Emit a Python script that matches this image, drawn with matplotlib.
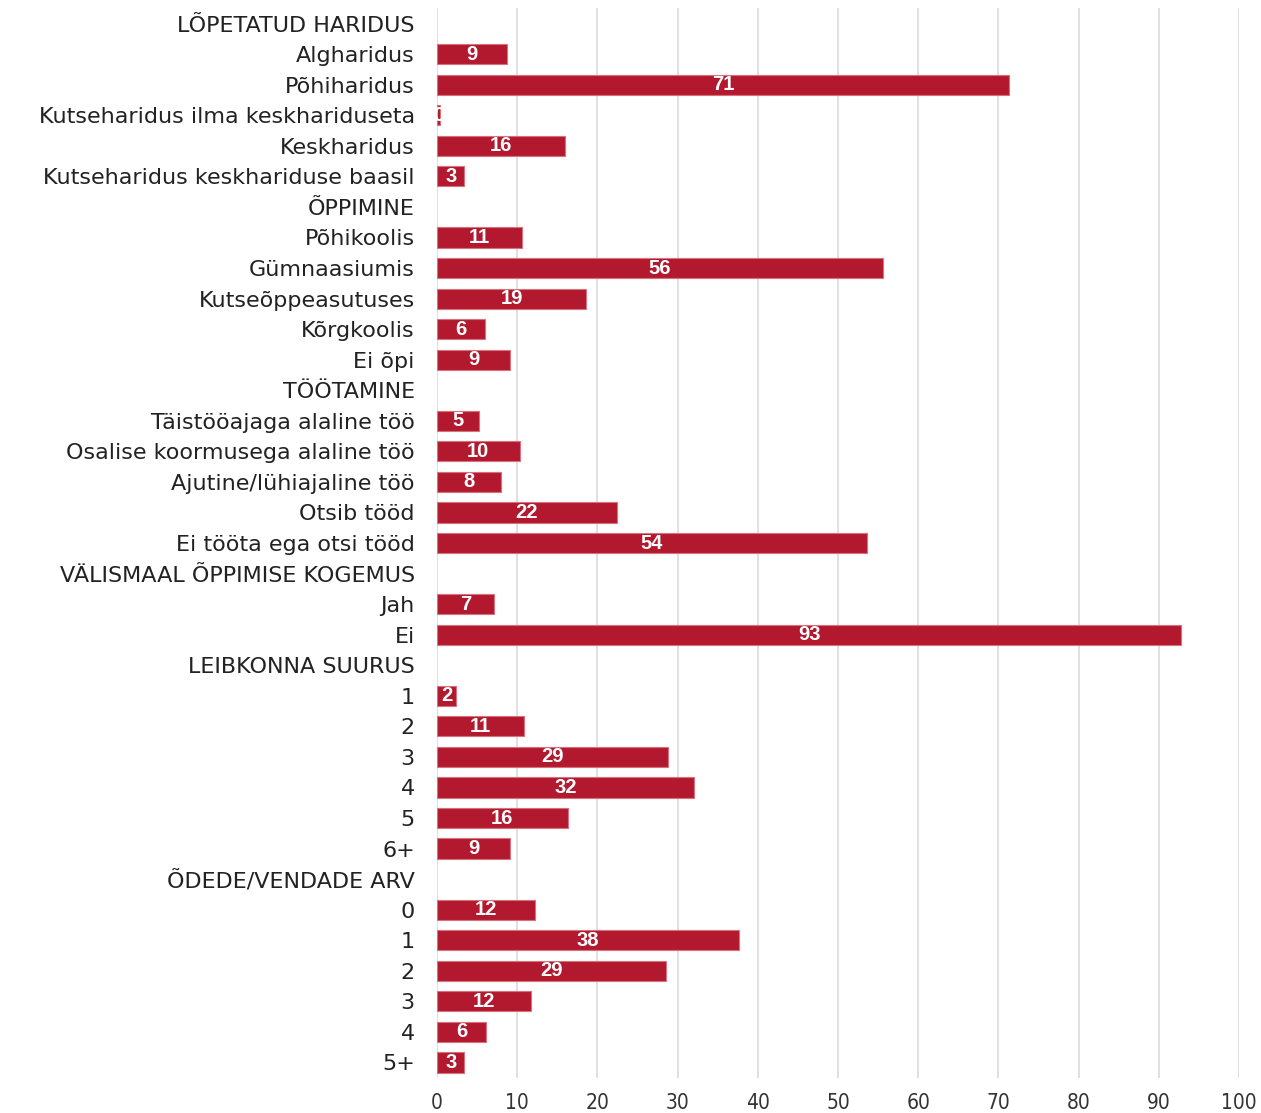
import matplotlib
matplotlib.use("Agg")
import matplotlib.pyplot as plt
import numpy as np

# category rows, top to bottom (section headers have no value)
labels = [
    "LÕPETATUD HARIDUS", "Algharidus", "Põhiharidus", "Kutseharidus ilma keskhariduseta",
    "Keskharidus", "Kutseharidus keskhariduse baasil",
    "ÕPPIMINE", "Põhikoolis", "Gümnaasiumis", "Kutseõppeasutuses", "Kõrgkoolis", "Ei õpi",
    "TÖÖTAMINE", "Täistööajaga alaline töö", "Osalise koormusega alaline töö",
    "Ajutine/lühiajaline töö", "Otsib tööd", "Ei tööta ega otsi tööd",
    "VÄLISMAAL ÕPPIMISE KOGEMUS", "Jah", "Ei",
    "LEIBKONNA SUURUS", "1", "2", "3", "4", "5", "6+",
    "ÕDEDE/VENDADE ARV", "0", "1", "2", "3", "4", "5+",
]
values = [
    None, 8.7, 71.3, 0.4, 16.0, 3.4,
    None, 10.6, 55.6, 18.6, 6.0, 9.1,
    None, 5.2, 10.3, 8.0, 22.4, 53.6,
    None, 7.1, 92.8,
    None, 2.4, 10.8, 28.8, 32.0, 16.3, 9.1,
    None, 12.2, 37.6, 28.6, 11.7, 6.1, 3.4,
]
xticks = [0, 10, 20, 30, 40, 50, 60, 70, 80, 90, 100]

BAR = "#b2192e"
EDGE = "#d8707e"

fig = plt.figure(figsize=(12.61, 11.13), dpi=100)
ax = fig.add_axes([0.3466, 0.0317, 0.636, 0.9608])

y = np.arange(len(labels))
for yi, v in zip(y, values):
    if v is None:
        continue
    ax.barh(yi, v, height=0.66, color=BAR, edgecolor=EDGE, linewidth=0.8, zorder=3)
    ax.text(v / 2, yi, f"{v:.0f}", ha="center", va="center", color="white",
            fontsize=14.5, fontweight="bold", family="Liberation Sans", zorder=4)

ax.set_xlim(0, 100)
ax.set_ylim(len(labels) - 0.5, -0.5)
ax.set_yticks(y)
ax.set_yticklabels(labels, fontsize=16, color="#222222", family="DejaVu Sans")
ax.set_xticks(xticks)
ax.set_xticklabels([str(t) for t in xticks], fontsize=15, color="#333333",
                   family="DejaVu Sans", fontstretch="condensed")
ax.tick_params(axis="both", length=0)
ax.tick_params(axis="y", pad=16)
ax.tick_params(axis="x", pad=11)
ax.grid(True, axis="x", color="#e0e0e0", linewidth=1.4, zorder=0)
for s in ax.spines.values():
    s.set_visible(False)

fig.savefig("out.png", dpi=100)
